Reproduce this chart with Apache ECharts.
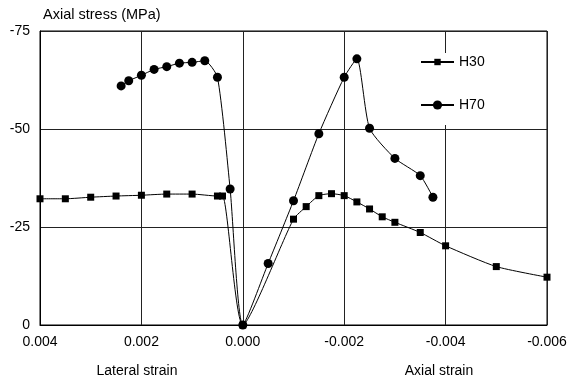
<!DOCTYPE html>
<html>
<head>
<meta charset="utf-8">
<script src="https://cdn.jsdelivr.net/npm/echarts@6/dist/echarts.min.js"></script>
<style>
  html, body { margin: 0; padding: 0; background: #fff; }
  #chart { width: 570px; height: 382px; }
</style>
</head>
<body>
<div id="chart"></div>
<script>
// Strain (lateral > 0, axial < 0) and axial stress (MPa, compression negative)
const h30Strain = [0.004, 0.0035, 0.003, 0.0025, 0.002, 0.0015, 0.001, 0.0005, 0.0004, 0,
  -0.001, -0.00125, -0.0015, -0.00175, -0.002, -0.00225, -0.0025, -0.00275, -0.003, -0.0035, -0.004, -0.005, -0.006];
const h30Stress = [-32.2, -32.2, -32.6, -32.9, -33.1, -33.4, -33.4, -32.9, -32.9, 0,
  -27.0, -30.2, -33.0, -33.5, -33.0, -31.4, -29.6, -27.6, -26.2, -23.6, -20.2, -14.9, -12.2];

const h70Strain = [0.0024, 0.00225, 0.002, 0.00175, 0.0015, 0.00125, 0.001, 0.00075, 0.0005, 0.00025, 0,
  -0.0005, -0.001, -0.0015, -0.002, -0.00225, -0.0025, -0.003, -0.0035, -0.00375];
const h70Stress = [-61.0, -62.3, -63.7, -65.2, -65.9, -66.8, -67.0, -67.4, -63.2, -34.7, 0,
  -15.7, -31.7, -48.8, -63.2, -67.9, -50.2, -42.5, -38.1, -32.6];

const seriesNames = ['H30', 'H70'];
const yTitle = 'Axial stress (MPa)';
const xTitleLeft = 'Lateral strain';
const xTitleRight = 'Axial strain';

const FONT = 'Liberation Sans, Arial, sans-serif';

function pairs(xs, ys) {
  return xs.map((x, i) => [x, ys[i]]);
}

// One legend block per series so each key marker keeps its own size;
// the two blocks stack into a single white box.
function legendBlock(name, top, itemHeight, padding) {
  return {
    orient: 'vertical',
    left: 415, top: top,
    padding: padding,
    itemWidth: 33, itemHeight: itemHeight,
    backgroundColor: '#fff',
    textStyle: { color: '#000', fontFamily: FONT, fontSize: 14 },
    data: [name]
  };
}

const chart = echarts.init(document.getElementById('chart'), null, { renderer: 'canvas' });

chart.setOption({
  animation: false,
  backgroundColor: '#fff',
  grid: {
    left: 40, right: 23, top: 31, bottom: 57,
    show: true, borderColor: '#000', borderWidth: 1
  },
  xAxis: {
    type: 'value',
    inverse: true,
    min: -0.006, max: 0.004, interval: 0.002,
    axisLine: { show: true, onZero: false, lineStyle: { color: '#000', width: 1 } },
    axisTick: { show: false },
    axisLabel: {
      margin: 10, color: '#000', fontFamily: FONT, fontSize: 14,
      formatter: v => (Math.abs(v) < 1e-12 ? 0 : v).toFixed(3)
    },
    splitLine: { show: true, lineStyle: { color: '#222', width: 1 } }
  },
  yAxis: {
    type: 'value',
    inverse: true,
    min: -75, max: 0, interval: 25,
    axisLine: { show: true, onZero: false, lineStyle: { color: '#000', width: 1 } },
    axisTick: { show: false },
    axisLabel: { margin: 10, color: '#000', fontFamily: FONT, fontSize: 14 },
    splitLine: { show: true, lineStyle: { color: '#222', width: 1 } }
  },
  legend: [
    legendBlock(seriesNames[0], 53, 8, [2, 8, 12, 5]),
    legendBlock(seriesNames[1], 81, 11.5, [17, 8, 13, 5])
  ],
  graphic: [
    { type: 'text', left: 43, top: 7, style: { text: yTitle, fill: '#000', font: '14.5px ' + FONT } },
    { type: 'text', x: 137, y: 371, style: { text: xTitleLeft, fill: '#000', font: '14px ' + FONT, textAlign: 'center', textVerticalAlign: 'middle' } },
    { type: 'text', x: 439, y: 371, style: { text: xTitleRight, fill: '#000', font: '14px ' + FONT, textAlign: 'center', textVerticalAlign: 'middle' } }
  ],
  series: [
    {
      name: seriesNames[0],
      type: 'line',
      data: pairs(h30Strain, h30Stress),
      smooth: 0.2,
      symbol: 'rect', symbolSize: 7,
      lineStyle: { color: '#000', width: 1 },
      itemStyle: { color: '#000' },
      z: 3
    },
    {
      name: seriesNames[1],
      type: 'line',
      data: pairs(h70Strain, h70Stress),
      smooth: 0.2,
      symbol: 'circle', symbolSize: 9,
      lineStyle: { color: '#000', width: 1 },
      itemStyle: { color: '#000' },
      z: 3
    }
  ]
});
</script>
</body>
</html>
